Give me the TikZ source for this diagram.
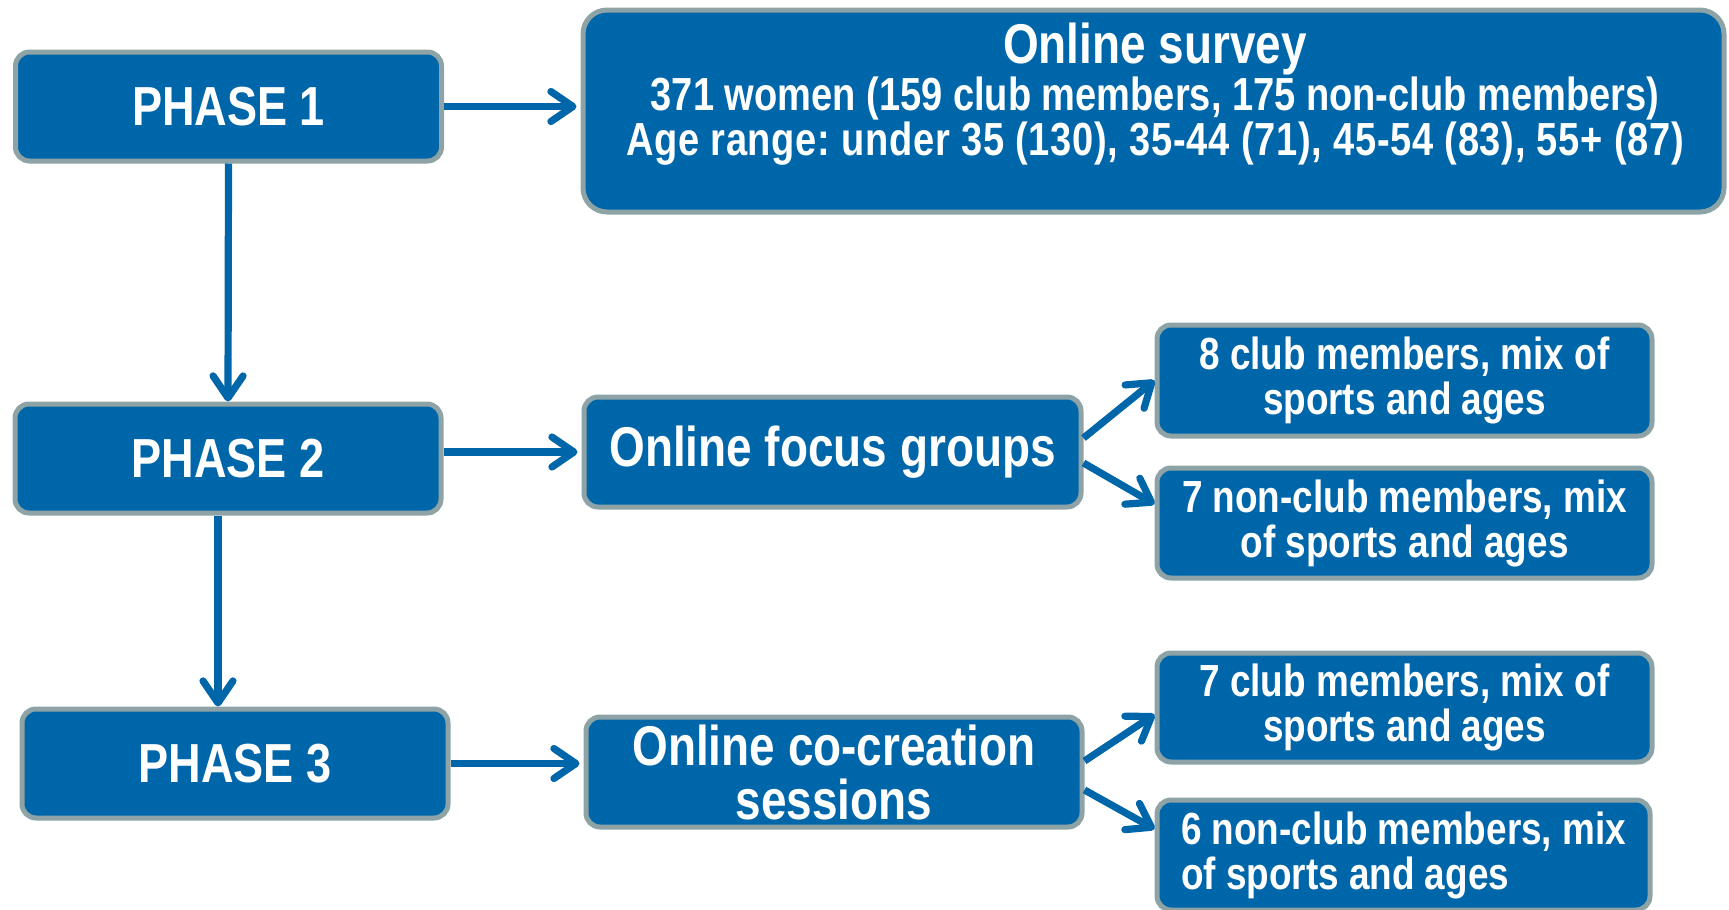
\documentclass[tikz,border=0pt]{standalone}
\usepackage{fontspec}
\setmainfont{Liberation Sans}[FakeStretch=0.82]
\usetikzlibrary{arrows.meta}
\definecolor{boxblue}{RGB}{0,102,170}
\definecolor{boxgray}{RGB}{141,163,166}
\frenchspacing
\begin{document}
\begin{tikzpicture}[x=0.5pt,y=-0.5pt,
  box/.style={draw=boxgray, line width=2.5pt, fill=boxblue, rounded corners=7pt,
    text=white, font=\bfseries, align=center, inner sep=0pt},
  phasebox/.style={box, minimum width=213pt, minimum height=54.5pt, font=\bfseries\fontsize{27.5}{27}\selectfont},
  bigbox/.style={box, minimum width=248pt, minimum height=55pt, font=\bfseries\fontsize{28}{27}\selectfont},
  smallbox/.style={box, minimum width=247.5pt, minimum height=55pt, font=\bfseries\fontsize{22.5}{22.5}\selectfont},
  arr/.style={draw=boxblue, line width=3.6pt, -{Straight Barb[length=11pt,width=15pt,round]}},
]
\useasboundingbox (0,0) rectangle (1729,910);

\node[phasebox] (p1) at (228.5,106.5) {PHASE 1};
\node[box, minimum width=570.5pt, minimum height=101pt, rounded corners=12pt] (survey) at (1153.5,111) {};
\node[anchor=north, align=center, inner sep=0pt, text=white, font=\bfseries\fontsize{23.2}{22.5}\selectfont] (surveytxt) at (1155,23)
  {{\fontsize{28}{28}\selectfont Online survey}\\[-0.5pt]
   371 women (159 club members, 175 non-club members)\\
   {\addfontfeature{LetterSpace=1.5}Age range: under 35 (130), 35-44 (71), 45-54 (83), 55+ (87)}};

\node[phasebox] (p2) at (228,458.5) {PHASE 2};
\node[bigbox, minimum width=248.5pt] (focus) at (832.5,452) {Online focus groups};
\node[smallbox, minimum height=55.5pt] (c8) at (1404.5,380.5) {8 club members, mix of\\sports and ages};
\node[smallbox] (n7) at (1404.5,523) {7 non-club members, mix\\of sports and ages};

\node[phasebox] (p3) at (235,763.5) {PHASE 3};
\node[bigbox] (co) at (834,772) {Online co-creation\\sessions};
\node[smallbox, minimum height=54.5pt] (c7) at (1404.5,707.5) {7 club members, mix of\\sports and ages};
\node[smallbox, minimum width=246.5pt, align=left] (n6) at (1403.5,855) {6 non-club members, mix\\of sports and ages};

\draw[arr, shorten >=2pt] (p1.east) -- (p1.east -| survey.west);
\draw[arr] (p1.south) -- (p2.north);
\draw[arr, shorten >=2pt] (p2.east |- focus.west) -- (focus.west);
\draw[arr] ([xshift=-5pt]p2.south) -- ([xshift=-5pt]p2.south |- p3.north);
\draw[arr, shorten >=2pt] (p3.east) -- (p3.east -| co.west);

\draw[arr] ([yshift=7pt]focus.east) -- (c8.west);
\draw[arr] ([yshift=-5.5pt]focus.east) -- ([yshift=9.5pt]n7.west);
\draw[arr] ([yshift=5.5pt]co.east) -- ([yshift=-3.5pt]c7.west);
\draw[arr] ([yshift=-9pt]co.east) -- ([yshift=13pt]n6.west);
\end{tikzpicture}
\end{document}
